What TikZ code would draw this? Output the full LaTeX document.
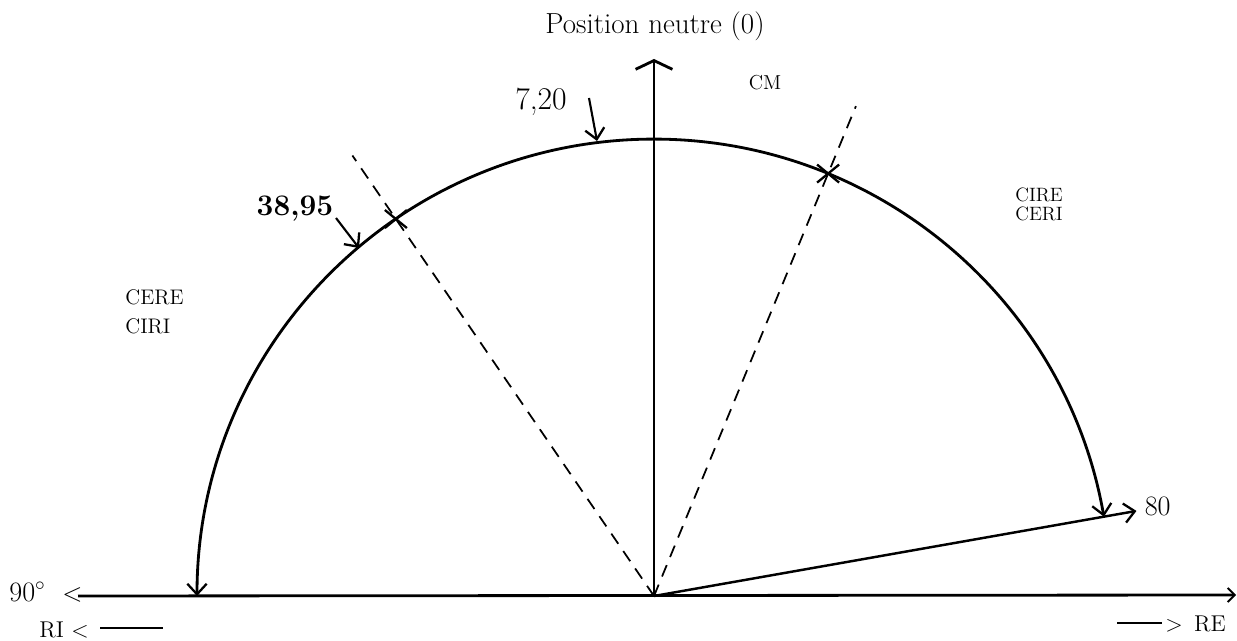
\documentclass[tikz,border=0pt]{standalone}
\usetikzlibrary{arrows.meta,calc}
\begin{document}
\begin{tikzpicture}[x=0.02cm,y=-0.02cm,
  main/.style={line width=1.6pt},
  barb/.style={-{Straight Barb[length=6pt,width=11pt,line width=1.3pt]}},
  dbarb/.style={{Straight Barb[length=6pt,width=11pt,line width=1.3pt]}-{Straight Barb[length=6pt,width=11pt,line width=1.3pt]}},
  dashline/.style={line width=1pt, dash pattern=on 7pt off 5pt},
  lbl/.style={inner sep=0pt, font=\fontsize{12}{14}\selectfont},
  cross/.style={line width=1.3pt}]
\useasboundingbox (0,0) rectangle (1237,641);
\coordinate (O) at (654,596);
\coordinate (Top) at (654,59);
\coordinate (ArcL) at (197,596);
\coordinate (ArcR) at ($(O)+(10:9.14cm)$);
\coordinate (E80) at ($(O)+(10:9.8cm)$);
\coordinate (XL) at ($(O)+(124.4:9.14cm)$);
\coordinate (XR) at ($(O)+(67.6:9.14cm)$);
\coordinate (DL) at ($(O)+(124.4:10.68cm)$);
\coordinate (DR) at ($(O)+(67.6:10.6cm)$);
\coordinate (AxL) at (78,596);
\coordinate (AxR) at (1236,595);

% labels
\node[lbl, font=\fontsize{16.5}{19}\selectfont] (pos) at (655,26) {Position neutre (0)};
\node[lbl, font=\fontsize{11.5}{14}\selectfont] (cm) at (765,83) {CM};
\node[lbl, font=\fontsize{18}{20}\selectfont] (v720) at (541,102) {7,20};
\node[lbl, font=\bfseries\fontsize{17}{20}\selectfont] (v3895) at (295,209) {38,95};
\node[lbl, align=left, anchor=north west, font=\fontsize{12}{13.5}\selectfont] (cere) at (125,289) {CERE\\[3pt]CIRI};
\node[lbl, align=left, anchor=north west, font=\fontsize{11}{10.5}\selectfont] (cire) at (1015,188) {CIRE\\CERI};
\node[lbl, anchor=west, font=\fontsize{16}{18}\selectfont] (v80) at ($(E80)+(8,-4)$) {80};
\node[lbl, anchor=west, font=\fontsize{16}{18}\selectfont] (v90) at (9,592) {90$^{\circ}$};
\node[lbl, anchor=west, font=\fontsize{15}{18}\selectfont] (lt) at (62,595) {<};
\node[lbl, anchor=west, font=\fontsize{13}{15}\selectfont] (ri) at (39,630) {RI\,\,<};
\node[lbl, anchor=west, font=\fontsize{13}{15}\selectfont] (re) at (1165,624) {>\,\,\,RE};
\coordinate (riL) at (100,628);
\coordinate (riR) at (163,628);
\coordinate (reL) at (1117,623);
\coordinate (reR) at (1162,623);

% axes
\draw[main, -{Straight Barb[length=5pt,width=21pt,line width=1.6pt]}] (O) -- (Top);
\draw[main, -{Straight Barb[length=4pt,width=8pt,line width=1.1pt]}] (AxL) -- (AxR);
\draw[line width=1.6pt] (riL) -- (riR);
\draw[line width=1.6pt] (reL) -- (reR);

% arc
\draw[main, dbarb] (ArcL) arc[start angle=180, end angle=10, radius=9.14cm];
% 80 line
\draw[line width=1.4pt, barb] (O) -- (E80);

% dashed lines
\draw[dashline] (O) -- (DL);
\draw[dashline] (O) -- (DR);

% crosses
\foreach \c in {XL,XR}{
  \draw[cross] ($(\c)+(-11,-9)$) -- ($(\c)+(11,9)$);
  \draw[cross] ($(\c)+(-11,9)$) -- ($(\c)+(11,-9)$);
}

% pointer arrows
\coordinate (a720s) at (589,98);
\coordinate (a720e) at (597,141);
\coordinate (a3895s) at (336,218);
\coordinate (a3895e) at (359,248);
\draw[line width=1.2pt, barb] (a720s) -- (a720e);
\draw[line width=1.2pt, barb] (a3895s) -- (a3895e);
\end{tikzpicture}
\end{document}
